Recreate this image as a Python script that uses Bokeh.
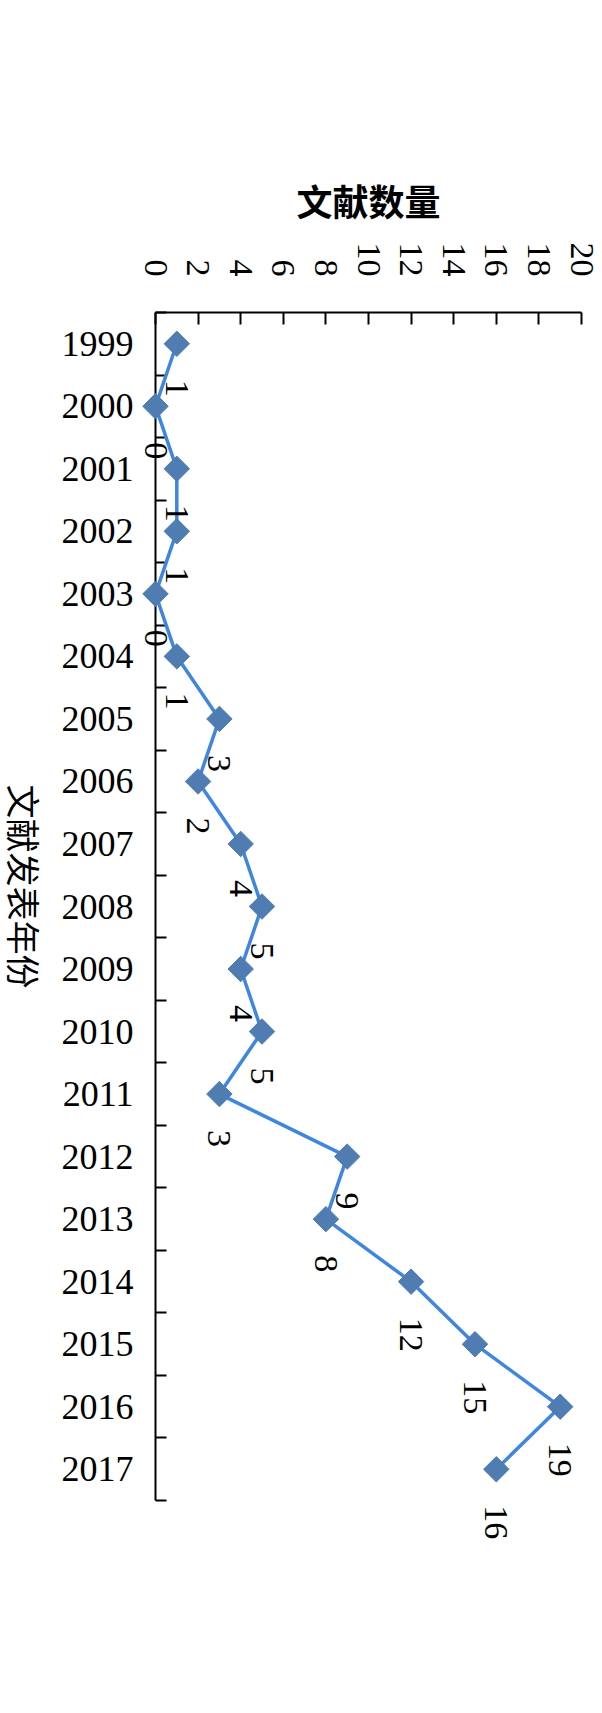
import math
from bokeh.plotting import figure
from bokeh.models import Range1d, LinearAxis, FixedTicker, ColumnDataSource
from bokeh.core.properties import value
from bokeh.embed import file_html
from bokeh.resources import INLINE

# ---- data ----
years = [1999, 2000, 2001, 2002, 2003, 2004, 2005, 2006, 2007, 2008,
         2009, 2010, 2011, 2012, 2013, 2014, 2015, 2016, 2017]
counts = [1, 0, 1, 1, 0, 1, 3, 2, 4, 5, 4, 5, 3, 9, 8, 12, 15, 19, 16]
x_ticks = [0, 2, 4, 6, 8, 10, 12, 14, 16, 18, 20]
x_title = "文献数量"
y_title = "文献发表年份"

SERIF = "Liberation Serif"
CJK = "Noto Sans CJK SC"

source = ColumnDataSource(dict(year=years, count=counts, label=[str(c) for c in counts]))

p = figure(frame_width=426, frame_height=1188, output_backend="svg", toolbar_location=None,
           x_range=Range1d(x_ticks[0], x_ticks[-1]),
           y_range=Range1d(years[-1] + 0.5, years[0] - 0.5),
           x_axis_location=None, y_axis_location=None,
           min_border_left=155, min_border_top=312, min_border_right=21,
           min_border_bottom=200)
p.outline_line_color = None
p.grid.visible = False
p.background_fill_color = "white"
p.border_fill_color = "white"

# top value axis
xaxis = LinearAxis(ticker=FixedTicker(ticks=x_ticks, minor_ticks=[]))
xaxis.axis_label = x_title
xaxis.axis_label_text_font = CJK
xaxis.axis_label_text_font_style = "bold"
xaxis.axis_label_text_font_size = "36px"
xaxis.axis_label_text_color = "black"
xaxis.axis_label_standoff = 14
xaxis.major_label_orientation = -math.pi / 2
xaxis.major_label_text_font = SERIF
xaxis.major_label_text_font_size = "34px"
xaxis.major_label_text_color = "black"
xaxis.major_label_standoff = 36
xaxis.major_tick_in = 12
xaxis.major_tick_out = 0
xaxis.major_tick_line_width = 2
xaxis.major_tick_line_color = "black"
xaxis.minor_tick_line_color = None
xaxis.axis_line_width = 2
xaxis.axis_line_color = "black"
p.add_layout(xaxis, "above")

# left category axis (years), boundary ticks drawn as minor ticks
minor = [y - 0.5 for y in years] + [years[-1] + 0.5]
yaxis = LinearAxis(ticker=FixedTicker(ticks=years, minor_ticks=minor))
yaxis.major_label_overrides = {y: str(y) for y in years}
yaxis.major_label_text_font = SERIF
yaxis.major_label_text_font_size = "36px"
yaxis.major_label_text_color = "black"
yaxis.major_label_standoff = 22
yaxis.major_tick_in = 0
yaxis.major_tick_out = 0
yaxis.major_tick_line_color = None
yaxis.minor_tick_in = 11
yaxis.minor_tick_out = 0
yaxis.minor_tick_line_width = 2
yaxis.minor_tick_line_color = "black"
yaxis.axis_line_width = 2
yaxis.axis_line_color = "black"
p.add_layout(yaxis, "left")

# rotated category-axis title (reads top to bottom)
t = p.text(x=[-6.15], y=[2007.68], text=[y_title], angle=-math.pi / 2,
           text_align="center", text_baseline="middle",
           text_font=value(CJK), text_font_size="34px", text_color="black")
t.level = "overlay"

# series
r1 = p.line(x="count", y="year", source=source, line_color="#3F86E0", line_width=3.5)
r2 = p.scatter(x="count", y="year", source=source, marker="square", angle=math.pi / 4,
               size=18, fill_color="#4F7DB2", line_color="#4F7DB2")
r3 = p.text(x="count", y="year", text="label", source=source, angle=-math.pi / 2,
            text_align="left", text_baseline="middle", y_offset=36,
            text_font=value(SERIF), text_font_size="34px", text_color="black")
for r in (r1, r2, r3):
    r.level = "overlay"

open("out.html", "w").write(file_html(p, INLINE))
